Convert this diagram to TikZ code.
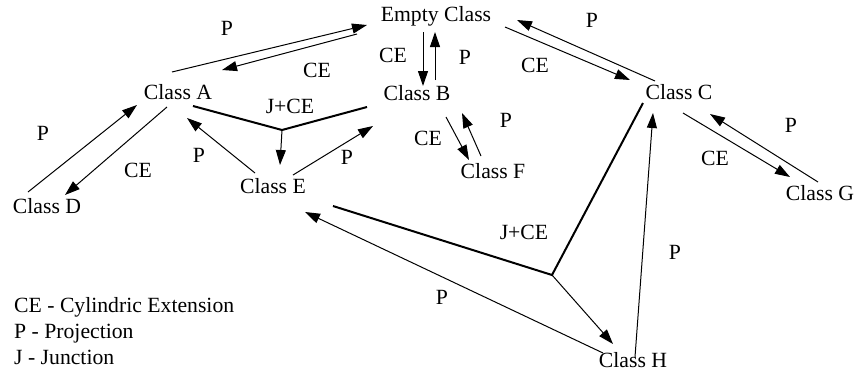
\documentclass[tikz,border=0pt]{standalone}
\usepackage{fontspec}
\setmainfont{Liberation Serif}
\usetikzlibrary{arrows.meta}
\begin{document}
\begin{tikzpicture}[x=1pt,y=-1pt,
  every node/.style={inner sep=0pt,font=\fontsize{21.7}{26}\selectfont},
  cls/.style={anchor=base},
  lbl/.style={anchor=center},
  arr/.style={line width=1pt,-{Triangle[length=15pt,width=10pt]}},
  junc/.style={line width=2pt},
  leg/.style={anchor=base west}]
\useasboundingbox (0,0) rectangle (855,373);
% classes
\node[cls] (E0) at (436,21) {Empty Class};
\node[cls] (A) at (178,99) {Class A};
\node[cls] (B) at (417,100) {Class B};
\node[cls] (C) at (679,99) {Class C};
\node[cls] (D) at (47,213) {Class D};
\node[cls] (E) at (273,193) {Class E};
\node[cls] (F) at (493,178) {Class F};
\node[cls] (G) at (820,200) {Class G};
\node[cls] (H) at (633,367) {Class H};
% endpoint coordinates
\coordinate (aE1) at (172,72);  \coordinate (eA1) at (367,25);
\coordinate (eA2) at (357,34);  \coordinate (aE2) at (222,70);
\coordinate (eB1) at (423,32);  \coordinate (bE1) at (423,86);
\coordinate (bE2) at (435,80);  \coordinate (eB2) at (435,32);
\coordinate (eC1) at (505,27);  \coordinate (cE1) at (630,80);
\coordinate (cE2) at (655,81);  \coordinate (eC2) at (517,20);
\coordinate (dA1) at (28,192);  \coordinate (aD1) at (137,105);
\coordinate (aD2) at (167,107); \coordinate (dA2) at (65,195);
\coordinate (eAa) at (255,173); \coordinate (aEa) at (187,118);
\coordinate (eBb) at (293,175); \coordinate (bEb) at (373,126);
\coordinate (bF1) at (446,117); \coordinate (fB1) at (469,160);
\coordinate (fB2) at (481,156); \coordinate (bF2) at (462,113);
\coordinate (cG1) at (683,113); \coordinate (gC1) at (790,177);
\coordinate (gC2) at (818,182); \coordinate (cG2) at (710,114);
\coordinate (aJ) at (193,106);  \coordinate (bJ) at (367,107);
\coordinate (J1) at (282,130);  \coordinate (eJ) at (280,165);
\coordinate (cJ) at (643,103);  \coordinate (eJ2) at (333,206);
\coordinate (J2) at (552,275);  \coordinate (hJ) at (613,344);
\coordinate (hC) at (635,357);  \coordinate (cH) at (653,113);
\coordinate (hE) at (603,353);  \coordinate (eH) at (305,212);
% arrows
\draw[arr] (aE1) -- (eA1);
\draw[arr] (eA2) -- (aE2);
\draw[arr] (eB1) -- (bE1);
\draw[arr] (bE2) -- (eB2);
\draw[arr] (eC1) -- (cE1);
\draw[arr] (cE2) -- (eC2);
\draw[arr] (dA1) -- (aD1);
\draw[arr] (aD2) -- (dA2);
\draw[arr] (eAa) -- (aEa);
\draw[arr] (eBb) -- (bEb);
\draw[arr] (bF1) -- (fB1);
\draw[arr] (fB2) -- (bF2);
\draw[arr] (cG1) -- (gC1);
\draw[arr] (gC2) -- (cG2);
\draw[junc] (aJ) -- (J1) -- (bJ);
\draw[arr] (J1) -- (eJ);
\draw[junc] (cJ) -- (J2) -- (eJ2);
\draw[arr] (J2) -- (hJ);
\draw[arr] (hC) -- (cH);
\draw[arr] (hE) -- (eH);
% labels
\node[lbl] (l1) at (227,28) {P};
\node[lbl] (l2) at (317,70) {CE};
\node[lbl] (l3) at (393,55) {CE};
\node[lbl] (l4) at (465,57) {P};
\node[lbl] (l5) at (592,20) {P};
\node[lbl] (l6) at (535,65) {CE};
\node[lbl] (l7) at (43,133) {P};
\node[lbl] (l8) at (138,170) {CE};
\node[lbl] (l9) at (290,106) {J+CE};
\node[lbl] (l10) at (199,155) {P};
\node[lbl] (l11) at (347,157) {P};
\node[lbl] (l12) at (428,138) {CE};
\node[lbl] (l13) at (506,120) {P};
\node[lbl] (l14) at (791,125) {P};
\node[lbl] (l15) at (715,158) {CE};
\node[lbl] (l16) at (524,232) {J+CE};
\node[lbl] (l17) at (675,252) {P};
\node[lbl] (l18) at (442,297) {P};
% legend
\node[leg] (g1) at (14,312) {CE - Cylindric Extension};
\node[leg] (g2) at (14,338) {P - Projection};
\node[leg] (g3) at (14,364) {J - Junction};
\end{tikzpicture}
\end{document}
